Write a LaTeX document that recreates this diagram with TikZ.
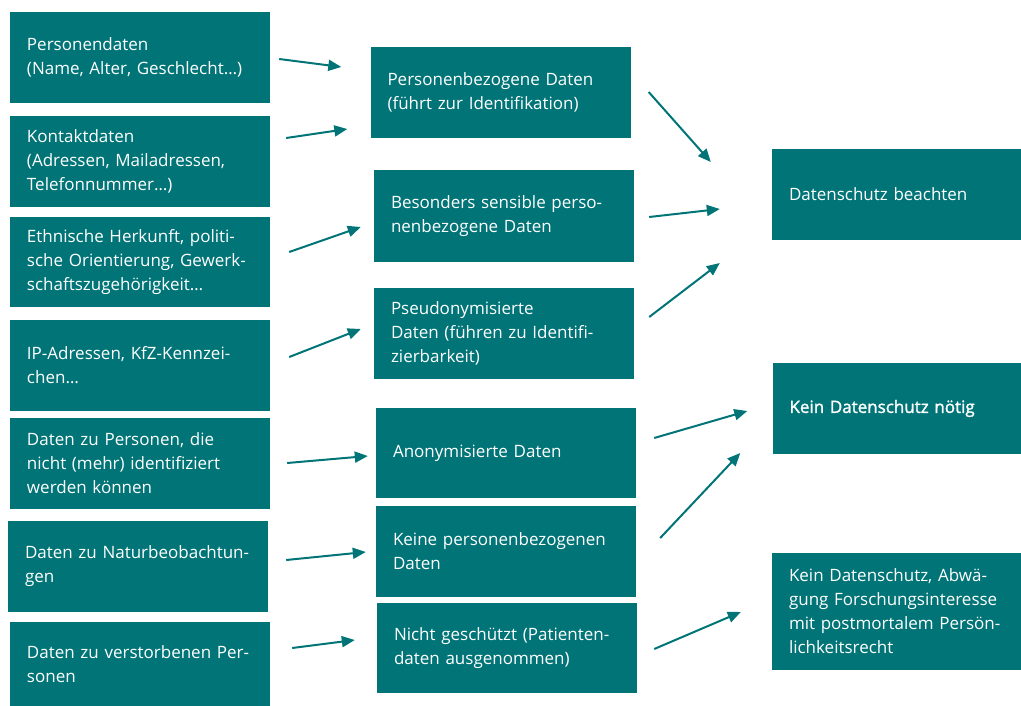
\documentclass[tikz,border=0pt]{standalone}
\usepackage{fontspec}
\setmainfont{Open Sans}
\newfontfamily\semibold{Open Sans}[FakeBold=1.6]
\usetikzlibrary{arrows.meta,calc}
\definecolor{boxteal}{RGB}{0,116,119}

\begin{document}
\begin{tikzpicture}[x=1pt, y=-1pt,
    box/.style={fill=boxteal, text=white, align=left, inner xsep=17pt, inner ysep=0pt,
      text width=226pt, minimum height=91pt,
      font=\fontsize{17}{24}\selectfont},
    rbox/.style={box, text width=215pt},
    arr/.style={draw=boxteal, line width=2pt, -{Triangle[length=13pt,width=11pt]}}]
  \useasboundingbox (0,0) rectangle (1021,706);
  % left column
  \node[box] (L1) at (140,57.5) {Personendaten\\(Name, Alter, Geschlecht\dots)};
  \node[box] (L2) at (140,161.5) {Kontaktdaten\\(Adressen, Mailadressen,\\Telefonnummer\dots)};
  \node[box, minimum height=90pt] (L3) at (140,262) {Ethnische Herkunft, politi-\\sche Orientierung, Gewerk-\\schaftszugehörigkeit\dots};
  \node[box] (L4) at (140,365.5) {IP-Adressen, KfZ-Kennzei-\\chen\dots};
  \node[box] (L5) at (140,463.5) {Daten zu Personen, die\\nicht (mehr) identifiziert\\werden können};
  \node[box] (L6) at (138,566.5) {Daten zu Naturbeobachtun-\\gen};
  \node[box, minimum height=84pt] (L7) at (140,664) {Daten zu verstorbenen Per-\\sonen};
  % middle column
  \node[box] (M1) at (500.5,92.5) {Personenbezogene Daten\\(führt zur Identifikation)};
  \node[box] (M2) at (504,216) {Besonders sensible perso-\\nenbezogene Daten};
  \node[box] (M3) at (504,333) {Pseudonymisierte\\Daten (führen zu Identifi-\\zierbarkeit)};
  \node[box, minimum height=90pt] (M4) at (506,453) {Anonymisierte Daten};
  \node[box] (M5) at (506,551.5) {Keine personenbezogenen\\Daten};
  \node[box, minimum height=90pt] (M6) at (507,648) {Nicht geschützt (Patienten-\\daten ausgenommen)};
  % right column
  \node[rbox] (R1) at (896.5,194.5) {Datenschutz beachten};
  \node[rbox] (R2) at (897,408.5) {\semibold Kein Datenschutz nötig};
  \node[rbox, minimum height=117pt] (R3) at (896.5,611.5) {Kein Datenschutz, Abwä-\\gung Forschungsinteresse\\mit postmortalem Persön-\\lichkeitsrecht};
  % arrows
  \draw[arr] ($(L1.east)+(9,1.5)$) -- ($(M1.west)+(-29,-25.5)$);
  \draw[arr] ($(L2.east)+(16,-23.5)$) -- ($(M1.west)+(-23,36.5)$);
  \draw[arr] ($(L3.east)+(19,-10)$) -- ($(M2.west)+(-13,11)$);
  \draw[arr] ($(L4.east)+(19,-8.5)$) -- ($(M3.west)+(-13,-4)$);
  \draw[arr] ($(L5.east)+(17,-0.5)$) -- ($(M4.west)+(-8,3)$);
  \draw[arr] ($(L6.east)+(18,-6.5)$) -- ($(M5.west)+(-10,0.5)$);
  \draw[arr] ($(L7.east)+(22,-16)$) -- ($(M6.west)+(-22,-8)$);
  \draw[arr] ($(M1.east)+(18,-0.5)$) -- ($(R1.west)+(-61,-32.5)$);
  \draw[arr] ($(M2.east)+(15,1)$) -- ($(R1.west)+(-52,14.5)$);
  \draw[arr] ($(M3.east)+(15,-16)$) -- ($(R1.west)+(-52,68.5)$);
  \draw[arr] ($(M4.east)+(18,-15)$) -- ($(R2.west)+(-25,2.5)$);
  \draw[arr] ($(M5.east)+(24,-13.5)$) -- ($(R2.west)+(-32,44.5)$);
  \draw[arr] ($(M6.east)+(17,1)$) -- ($(R3.west)+(-31,0.5)$);
\end{tikzpicture}
\end{document}
